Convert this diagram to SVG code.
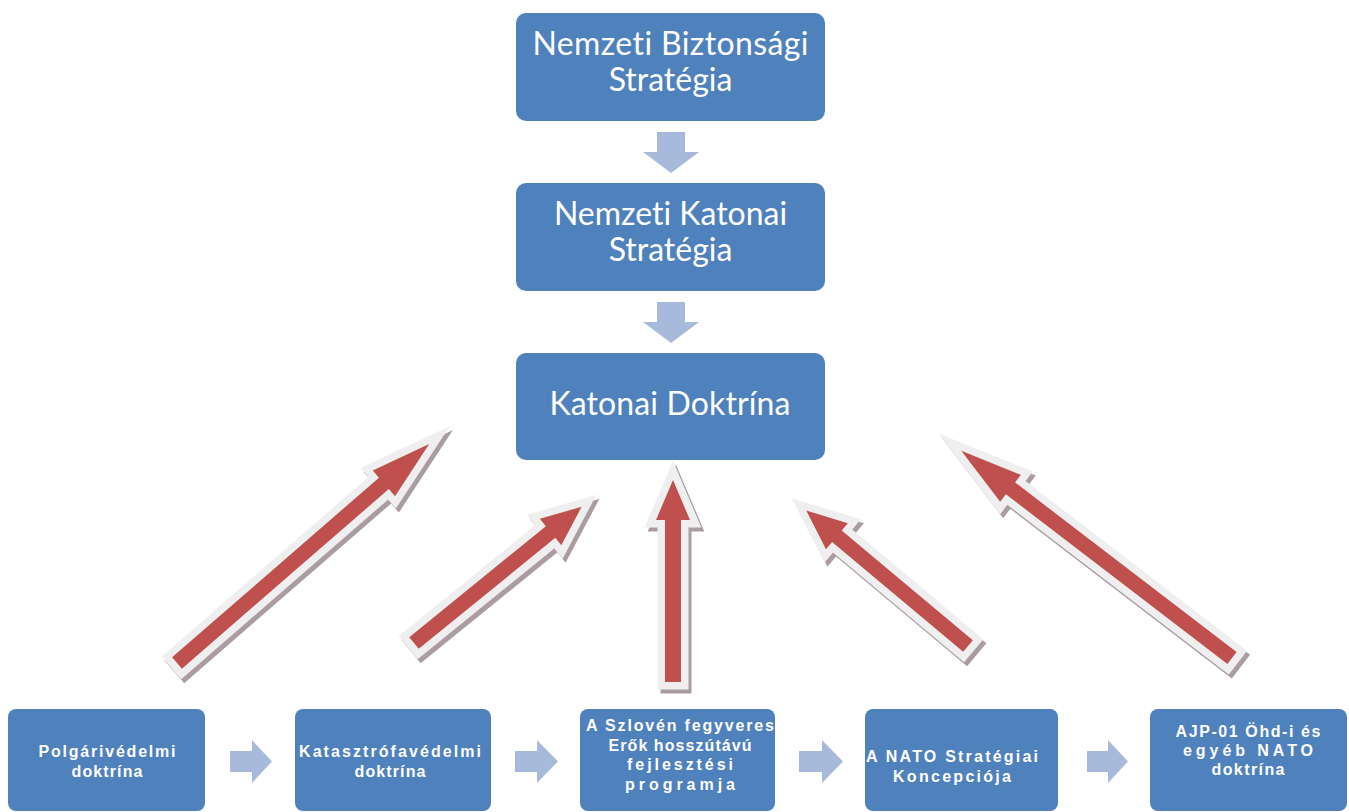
<svg xmlns="http://www.w3.org/2000/svg" xmlns:xlink="http://www.w3.org/1999/xlink" width="1349" height="812" viewBox="0 0 1349 812">
<style>
.box{fill:#4f81bd;}
.t{fill:#ffffff;font-family:Lato,"Open Sans","Liberation Sans",sans-serif;text-anchor:middle;font-variant-ligatures:none;}
.big{font-size:32px;}
.small{font-family:"Liberation Sans",Arial,sans-serif;font-size:16px;font-weight:bold;}
.flow{fill:#a7badb;}
.sh{fill:#ab9ca1;stroke:#ab9ca1;stroke-width:15;stroke-linejoin:miter;stroke-miterlimit:10;}
.halo{fill:#efefef;stroke:#efefef;stroke-width:15;stroke-linejoin:miter;stroke-miterlimit:10;}
.red{fill:#c0504d;}
</style>
<defs>
<path id="a1" transform="translate(177,663) rotate(-40.97)" d="M0,-7.5 H274 V-17 L334,0 L274,17 V7.5 H0 Z"/>
<path id="a2" transform="translate(414,643) rotate(-39.1)" d="M0,-7.5 H176 V-17 L216,0 L176,17 V7.5 H0 Z"/>
<path id="a3" transform="translate(673,682) rotate(-90)" d="M0,-8 H162 V-17 L202,0 L162,17 V8 H0 Z"/>
<path id="a4" transform="translate(968,646) rotate(-140.05)" d="M0,-7.5 H171 V-17 L211,0 L171,17 V7.5 H0 Z"/>
<path id="a5" transform="translate(1232,658) rotate(-142.55)" d="M0,-7.5 H279 V-17 L341,0 L279,17 V7.5 H0 Z"/>
</defs>
<rect width="1349" height="812" fill="#ffffff"/>
<g id="connectors">
<polygon class="flow" points="657,132 685,132 685,152 699,152 671,173 643,152 657,152"/>
<polygon class="flow" points="657,302 685,302 685,322 699,322 671,343 643,322 657,322"/>
<polygon class="flow" points="230,751 252,751 252,740 272,761.5 252,783 252,772 230,772"/>
<polygon class="flow" points="515,751 537,751 537,740 558,761.5 537,783 537,772 515,772"/>
<polygon class="flow" points="799,751 822,751 822,740 843,761.5 822,783 822,772 799,772"/>
<polygon class="flow" points="1087,751 1108,751 1108,740 1128,761.5 1108,783 1108,772 1087,772"/>
<g id="arrow1"><use xlink:href="#a1" class="sh" transform="translate(3,4)"/><use xlink:href="#a1" class="halo"/><use xlink:href="#a1" class="red"/></g>
<g id="arrow2"><use xlink:href="#a2" class="sh" transform="translate(3,4)"/><use xlink:href="#a2" class="halo"/><use xlink:href="#a2" class="red"/></g>
<g id="arrow3"><use xlink:href="#a3" class="sh" transform="translate(3,4)"/><use xlink:href="#a3" class="halo"/><use xlink:href="#a3" class="red"/></g>
<g id="arrow4"><use xlink:href="#a4" class="sh" transform="translate(3,4)"/><use xlink:href="#a4" class="halo"/><use xlink:href="#a4" class="red"/></g>
<g id="arrow5"><use xlink:href="#a5" class="sh" transform="translate(3,4)"/><use xlink:href="#a5" class="halo"/><use xlink:href="#a5" class="red"/></g>
</g>
<g id="nbs">
<rect class="box" x="516" y="13" width="309" height="108" rx="10"/>
<text class="t big" x="670.5" y="55" textLength="276">Nemzeti Biztonsági</text>
<text class="t big" x="670.5" y="91">Stratégia</text>
</g>
<g id="nks">
<rect class="box" x="516" y="183" width="309" height="108" rx="10"/>
<text class="t big" x="670.5" y="225">Nemzeti Katonai</text>
<text class="t big" x="670.5" y="261">Stratégia</text>
</g>
<g id="kd">
<rect class="box" x="516" y="353" width="309" height="107" rx="10"/>
<text class="t big" x="670" y="415" textLength="241">Katonai Doktrína</text>
</g>
<g id="b1">
<rect class="box" x="8" y="709" width="197" height="102" rx="8"/>
<text class="t small" x="107" y="757" textLength="137">Polgárivédelmi</text>
<text class="t small" x="107" y="777" textLength="71">doktrína</text>
</g>
<g id="b2">
<rect class="box" x="295" y="709" width="196" height="102" rx="8"/>
<text class="t small" x="390" y="757" textLength="182">Katasztrófavédelmi</text>
<text class="t small" x="390" y="777" textLength="71">doktrína</text>
</g>
<g id="b3">
<rect class="box" x="580" y="709" width="195" height="102" rx="8"/>
<text class="t small" x="680" y="731" textLength="188">A Szlovén fegyveres</text>
<text class="t small" x="680" y="751" textLength="143">Erők hosszútávú</text>
<text class="t small" x="680" y="770" textLength="106">fejlesztési</text>
<text class="t small" x="680" y="790" textLength="110">programja</text>
</g>
<g id="b4">
<rect class="box" x="865" y="709" width="193" height="102" rx="8"/>
<text class="t small" x="952" y="762" textLength="172">A NATO Stratégiai</text>
<text class="t small" x="952" y="782" textLength="118">Koncepciója</text>
</g>
<g id="b5">
<rect class="box" x="1150" y="709" width="197" height="102" rx="8"/>
<text class="t small" x="1248" y="737" textLength="145">AJP-01 Öhd-i és</text>
<text class="t small" x="1248" y="756" textLength="130">egyéb NATO</text>
<text class="t small" x="1248" y="775" textLength="73">doktrína</text>
</g>
</svg>
